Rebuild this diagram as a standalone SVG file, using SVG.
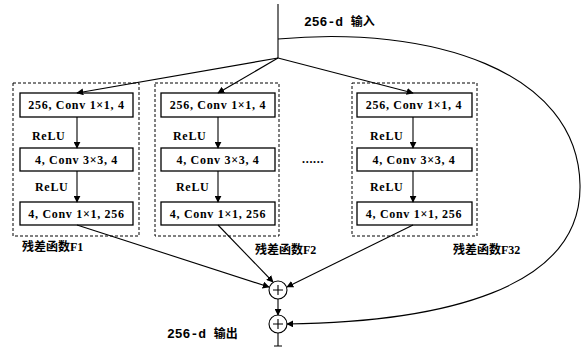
<svg xmlns="http://www.w3.org/2000/svg" width="582" height="349" viewBox="0 0 582 349">
  <style>
    .frame { fill: none; stroke: #000; stroke-width: 1; stroke-dasharray: 3 2; }
    .box { fill: #fff; stroke: #000; stroke-width: 1.3; }
    .line { fill: none; stroke: #000; stroke-width: 1.1; }
    .txt { font-family: "Liberation Serif", "Noto Sans CJK SC", serif; font-weight: bold; font-size: 12px; fill: #000; letter-spacing: 0.7px; }
    .cjk { font-family: "Noto Sans CJK SC", "Liberation Sans", sans-serif; font-weight: bold; font-size: 12px; fill: #000; }
    .head { font-family: "Liberation Mono", "Noto Sans CJK SC", monospace; font-weight: bold; font-size: 13px; fill: #000; }
    .sum { fill: #fff; stroke: #000; stroke-width: 1.1; }
  </style>
  <defs>
    <marker id="arrow" viewBox="0 0 10 10" refX="9" refY="5" markerWidth="7" markerHeight="7" markerUnits="userSpaceOnUse" orient="auto">
      <path d="M0,0 L10,5 L0,10 z" fill="#000"/>
    </marker>
  </defs>

  <!-- input / output labels -->
  <text class="head" x="304" y="26">256-d <tspan class="cjk" font-size="13">输入</tspan></text>
  <text class="head" x="167" y="338">256-d <tspan class="cjk" font-size="13">输出</tspan></text>

  <!-- branch F1 -->
  <g id="branch-f1">
    <rect class="frame" x="13" y="83" width="126" height="153"/>
    <rect class="box" x="20" y="93" width="113" height="24"/>
    <text class="txt" x="76.5" y="109" text-anchor="middle">256, Conv 1×1, 4</text>
    <text class="txt" x="32" y="140">ReLU</text>
    <rect class="box" x="20" y="148" width="113" height="23"/>
    <text class="txt" x="76.5" y="164" text-anchor="middle">4, Conv 3×3, 4</text>
    <text class="txt" x="35" y="191">ReLU</text>
    <rect class="box" x="20" y="202" width="113" height="23"/>
    <text class="txt" x="76.5" y="218" text-anchor="middle">4, Conv 1×1, 256</text>
    <text class="cjk" x="22" y="251">残差函数<tspan font-family="Liberation Serif">F1</tspan></text>
  </g>

  <!-- branch F2 -->
  <g id="branch-f2">
    <rect class="frame" x="155" y="83" width="124" height="153"/>
    <rect class="box" x="161" y="93" width="114" height="24"/>
    <text class="txt" x="218" y="109" text-anchor="middle">256, Conv 1×1, 4</text>
    <text class="txt" x="173" y="140">ReLU</text>
    <rect class="box" x="161" y="148" width="114" height="23"/>
    <text class="txt" x="218" y="164" text-anchor="middle">4, Conv 3×3, 4</text>
    <text class="txt" x="176" y="191">ReLU</text>
    <rect class="box" x="161" y="202" width="114" height="23"/>
    <text class="txt" x="218" y="218" text-anchor="middle">4, Conv 1×1, 256</text>
    <text class="cjk" x="255" y="254">残差函数<tspan font-family="Liberation Serif">F2</tspan></text>
  </g>

  <!-- ellipsis between branches -->
  <text class="txt" x="302" y="163">......</text>

  <!-- branch F32 -->
  <g id="branch-f32">
    <rect class="frame" x="352" y="83" width="125" height="153"/>
    <rect class="box" x="357" y="93" width="115" height="24"/>
    <text class="txt" x="414" y="109" text-anchor="middle">256, Conv 1×1, 4</text>
    <text class="txt" x="370" y="140">ReLU</text>
    <rect class="box" x="357" y="148" width="115" height="23"/>
    <text class="txt" x="414" y="164" text-anchor="middle">4, Conv 3×3, 4</text>
    <text class="txt" x="370" y="191">ReLU</text>
    <rect class="box" x="357" y="202" width="115" height="23"/>
    <text class="txt" x="414" y="218" text-anchor="middle">4, Conv 1×1, 256</text>
    <text class="cjk" x="453" y="254">残差函数<tspan font-family="Liberation Serif">F32</tspan></text>
  </g>

  <!-- summation nodes -->
  <g id="sum-branches">
    <circle class="sum" cx="278" cy="290" r="9"/>
    <path class="line" d="M273,290 H283 M278,285 V295"/>
  </g>
  <g id="sum-shortcut">
    <circle class="sum" cx="278" cy="324" r="9"/>
    <path class="line" d="M273,324 H283 M278,319 V329"/>
  </g>

  <!-- connectors -->
  <g id="connectors">
    <path class="line" d="M278,4 V58"/>
    <path class="line" d="M278,58 L77,93" marker-end="url(#arrow)"/>
    <path class="line" d="M278,58 L218,93" marker-end="url(#arrow)"/>
    <path class="line" d="M278,58 L413,93" marker-end="url(#arrow)"/>
    <!-- inner block arrows -->
    <path class="line" d="M77,117 V148" marker-end="url(#arrow)"/>
    <path class="line" d="M77,171 V202" marker-end="url(#arrow)"/>
    <path class="line" d="M218,117 V148" marker-end="url(#arrow)"/>
    <path class="line" d="M218,171 V202" marker-end="url(#arrow)"/>
    <path class="line" d="M413,117 V148" marker-end="url(#arrow)"/>
    <path class="line" d="M413,171 V202" marker-end="url(#arrow)"/>
    <!-- branch outputs into the sum -->
    <path class="line" d="M77,225 L269,287" marker-end="url(#arrow)"/>
    <path class="line" d="M218,225 L273,282" marker-end="url(#arrow)"/>
    <path class="line" d="M413,225 L287,287" marker-end="url(#arrow)"/>
    <path class="line" d="M278,299 V315" marker-end="url(#arrow)"/>
    <!-- identity shortcut -->
    <path class="line" d="M278,39 C430,25 578,70 580,185 C582,290 440,322 287,324" marker-end="url(#arrow)"/>
    <path class="line" d="M278,333 V346 M274,346 H282"/>
  </g>
</svg>
